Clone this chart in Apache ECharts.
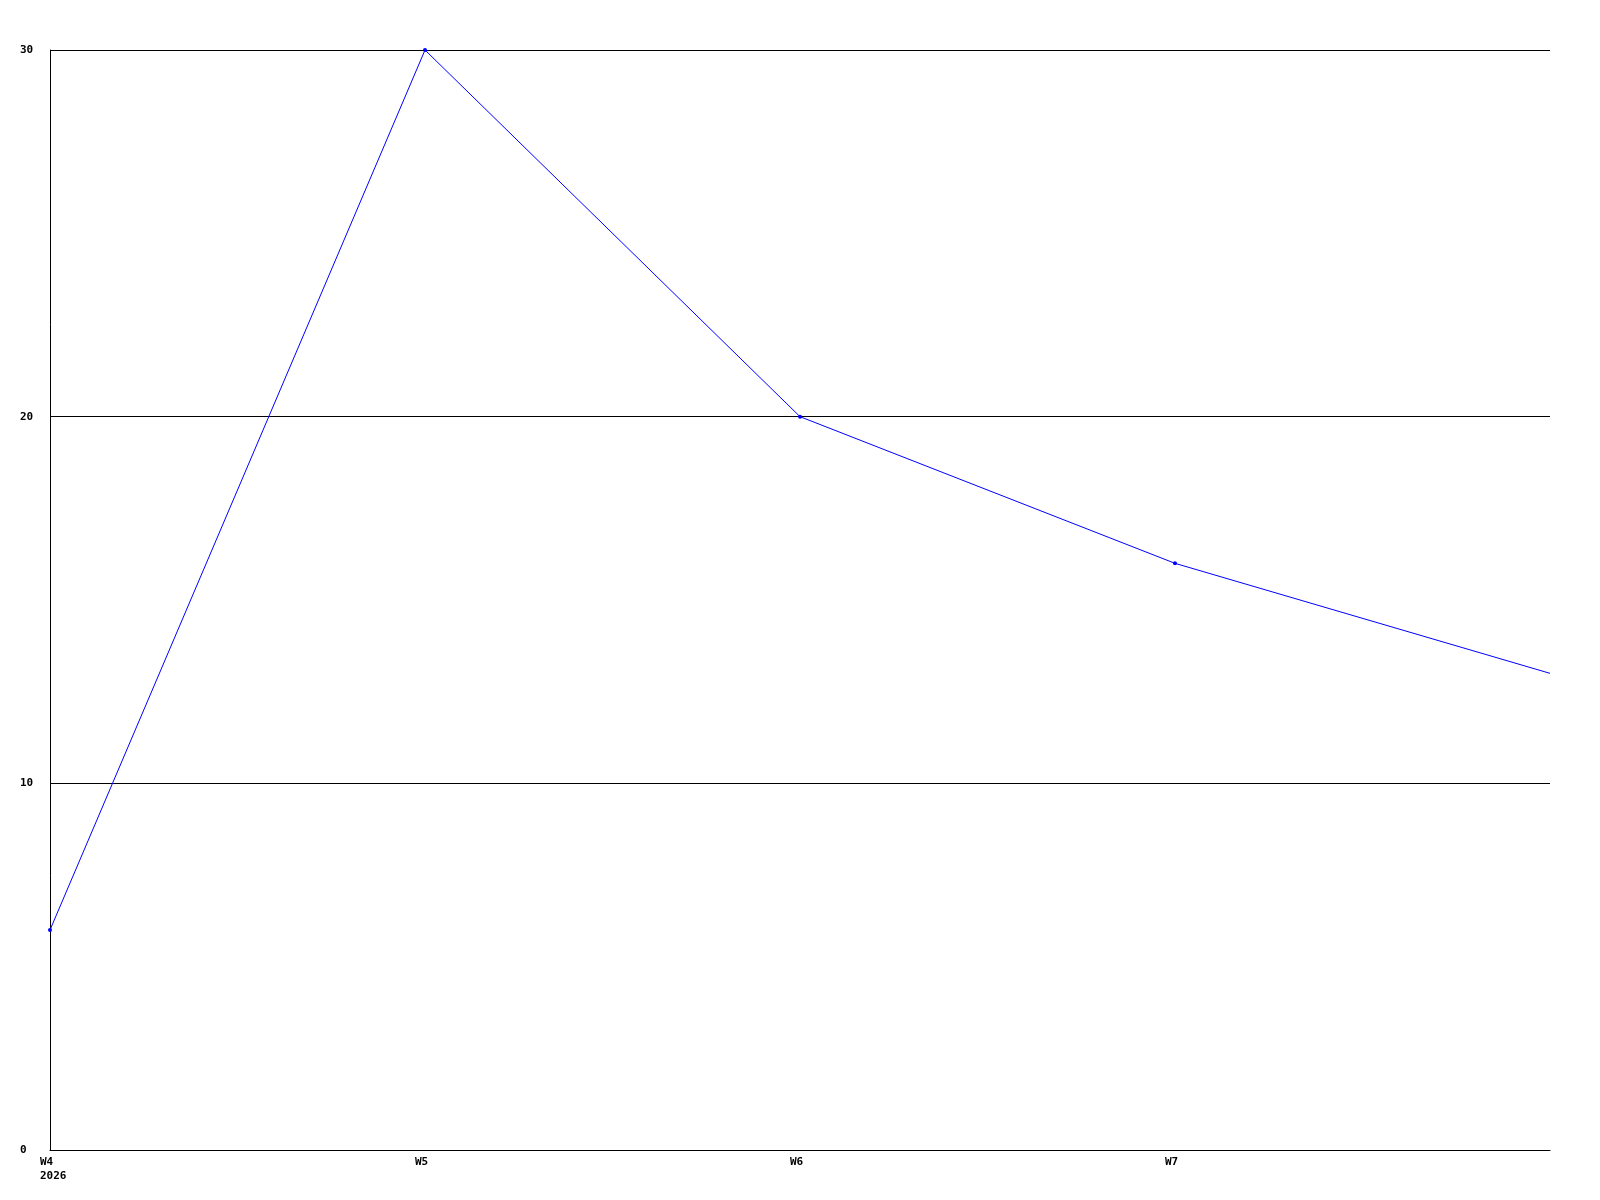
<!DOCTYPE html>
<html>
<head>
<meta charset="utf-8">
<script src="https://cdn.jsdelivr.net/npm/echarts@6/dist/echarts.min.js"></script>
<style>
html,body{margin:0;padding:0;background:#fff;}
#chart{width:1600px;height:1200px;}
</style>
</head>
<body>
<div id="chart"></div>
<script>
var categories = ['W4', 'W5', 'W6', 'W7', 'W8'];
var yearLabel = '2026';
var values = [6, 30, 20, 16, 13];
var yTicks = [0, 10, 20, 30];

var chart = echarts.init(document.getElementById('chart'), null, {renderer: 'canvas'});
var fontFamily = '"DejaVu Sans Mono", monospace';
var lastIdx = values.length - 1;
var seriesData = values.map(function (v, i) {
  return i === lastIdx ? {value: v, symbol: 'none'} : v;
});

chart.setOption({
  animation: false,
  backgroundColor: '#ffffff',
  grid: {left: 50, right: 50, top: 50, bottom: 50, containLabel: false},
  xAxis: {
    type: 'category',
    data: categories,
    boundaryGap: false,
    axisLine: {show: true, lineStyle: {color: '#000', width: 1}},
    axisTick: {show: false},
    splitLine: {show: false},
    axisLabel: {
      interval: 0,
      margin: 5,
      align: 'center',
      formatter: function (v, i) {
        if (i === lastIdx) return '';
        if (i === 0) return '{a|' + v + '}\n{a|' + yearLabel + '}';
        return '{a|' + v + '}';
      },
      rich: {
        a: {width: 20, align: 'left', fontFamily: fontFamily, fontWeight: 'bold', fontSize: 11, lineHeight: 14, color: '#000'}
      }
    }
  },
  yAxis: {
    type: 'value',
    min: yTicks[0],
    max: yTicks[yTicks.length - 1],
    interval: 10,
    axisLine: {show: true, lineStyle: {color: '#000', width: 1}},
    axisTick: {show: false},
    splitLine: {show: true, lineStyle: {color: '#000', width: 1, type: 'solid'}},
    axisLabel: {
      margin: 30,
      align: 'left',
      fontFamily: fontFamily,
      fontWeight: 'bold',
      fontSize: 11,
      color: '#000'
    }
  },
  series: [{
    type: 'line',
    data: seriesData,
    symbol: 'circle',
    symbolSize: 4,
    showSymbol: true,
    clip: false,
    lineStyle: {color: '#0000ff', width: 1},
    itemStyle: {color: '#0000ff'},
    emphasis: {disabled: true}
  }]
});
</script>
</body>
</html>
